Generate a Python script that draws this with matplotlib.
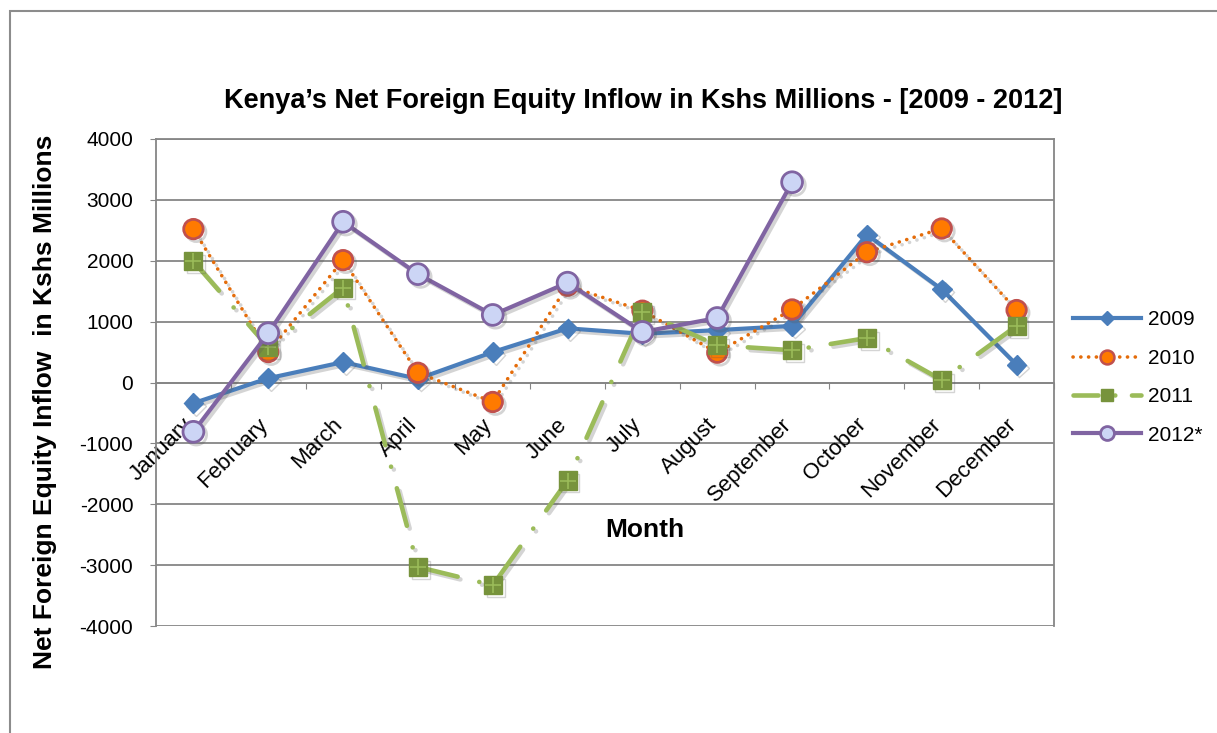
import numpy as np
import matplotlib
matplotlib.use("Agg")
import matplotlib.pyplot as plt
import matplotlib.patheffects as pe
from matplotlib.lines import Line2D
from matplotlib.patches import Rectangle

plt.rcParams['font.family'] = ['Liberation Sans', 'DejaVu Sans']
plt.rcParams['lines.scale_dashes'] = False

months = ["January", "February", "March", "April", "May", "June",
          "July", "August", "September", "October", "November", "December"]

y2009 = [-340, 70, 335, 60, 500, 890, 800, 860, 930, 2430, 1530, 290]
y2010 = [2520, 500, 2010, 160, -320, 1590, 1180, 490, 1200, 2140, 2530, 1190]
y2011 = [1990, 580, 1560, -3030, -3330, -1610, 1160, 610, 530, 730, 40, 930]
y2012 = [-810, 810, 2640, 1780, 1110, 1640, 830, 1060, 3290, np.nan, np.nan, np.nan]

yticks = [-4000, -3000, -2000, -1000, 0, 1000, 2000, 3000, 4000]

W, H = 1217, 733
fig = plt.figure(figsize=(W / 100, H / 100), dpi=100)
ax = fig.add_axes([156 / W, 1 - 626 / H, (1054 - 156) / W, (626 - 139) / H])

gray = '#868686'
x = np.arange(len(months))

def shadow():
    return [pe.SimpleLineShadow(offset=(2, -2), alpha=0.25, shadow_color='#555555'), pe.Normal()]

dash10 = (0, (0.1, 5.5))
dash11 = (0, (28, 16, 0.1, 16))

ax.plot(x, y2009, color='#4a7ebb', lw=3.0, marker='D', ms=10,
        mfc='#4a7ebb', mec='#4a7ebb', path_effects=shadow(), zorder=3)
ax.plot(x, y2010, color='#e46c0a', lw=2.6, ls=dash10,
        dash_capstyle='round', marker='o', ms=14, mfc='#ff7a00',
        mec='#c0504d', mew=2, path_effects=shadow(), zorder=4)
ax.plot(x, y2011, color='#9bbb59', lw=3.3, ls=dash11,
        dash_capstyle='round', marker='s', ms=13, mfc='#77933c',
        mec='#77933c', path_effects=shadow(), zorder=5)
ax.plot(x, y2011, ls='none', marker='+', ms=12, mew=1.2, color='#9bbb59', zorder=5.5)
ax.plot(x, y2012, color='#8064a2', lw=3.0, marker='o', ms=15,
        mfc='#ccd5f5', mec='#8064a2', mew=2, path_effects=shadow(), zorder=6)

ax.set_xlim(-0.5, len(months) - 0.5)
ax.set_ylim(-4000, 4000)
ax.set_yticks(yticks)
ax.set_yticklabels([str(v) for v in yticks], fontsize=15)
ax.yaxis.grid(True, color=gray, lw=1.3)
ax.set_axisbelow(True)

for s in ['left', 'right', 'top']:
    ax.spines[s].set_color(gray)
    ax.spines[s].set_linewidth(1.3)
ax.spines['bottom'].set_position(('data', 0))
ax.spines['bottom'].set_color(gray)
ax.spines['bottom'].set_linewidth(1.3)

ax.tick_params(axis='y', direction='out', length=4.3, color=gray, pad=12)
ax.set_xticks(np.arange(len(months) + 1) - 0.5)
ax.set_xticklabels([])
ax.tick_params(axis='x', direction='out', length=4.3, color=gray)

# month names sit below the zero line, rotated like Excel does it
for i, m in enumerate(months):
    ax.annotate(m, (i, 0), xytext=(0, -43), textcoords='offset pixels',
                rotation=45, ha='right', va='baseline', rotation_mode='anchor',
                fontsize=16, zorder=2)

fig.text(643.5 / W, 1 - 101 / H,
         "Kenya\u2019s Net Foreign Equity Inflow in Kshs Millions - [2009 - 2012]",
         ha='center', va='center', fontsize=19.5, fontweight='bold')
fig.text(45 / W, 1 - 402 / H, "Net Foreign Equity Inflow  in Kshs Millions",
         rotation=90, ha='center', va='center', fontsize=19, fontweight='bold')
fig.text(645 / W, 1 - 530 / H, "Month", ha='center', va='center',
         fontsize=19, fontweight='bold')

handles = [
    Line2D([], [], color='#4a7ebb', lw=3.0, marker='D', ms=7, mfc='#4a7ebb', mec='#4a7ebb'),
    Line2D([], [], color='#e46c0a', lw=2.6, ls=dash10, dash_capstyle='round',
           marker='o', ms=10, mfc='#ff7a00', mec='#c0504d', mew=1.8),
    Line2D([], [], color='#9bbb59', lw=3.3, ls=(0, (18, 12, 0.1, 12)), dash_capstyle='round',
           marker='s', ms=8, mfc='#77933c', mec='#77933c'),
    Line2D([], [], color='#8064a2', lw=3.0, marker='o', ms=10, mfc='#ccd5f5',
           mec='#8064a2', mew=2),
]
labels = ['2009', '2010', '2011', '2012*']
fig.legend(handles, labels, loc='center left',
           bbox_to_anchor=(1073 / W, 1 - 377.5 / H), frameon=False,
           fontsize=15, handlelength=3.27, handletextpad=0.33,
           labelspacing=0.93, borderpad=0, borderaxespad=0)

fig.patches.append(Rectangle((10 / W, -0.05), 1.2, 1 - 11 / H + 0.05,
                             transform=fig.transFigure, fill=False,
                             edgecolor='#8c8c8c', lw=1.5))

fig.savefig("out.png", dpi=100)
